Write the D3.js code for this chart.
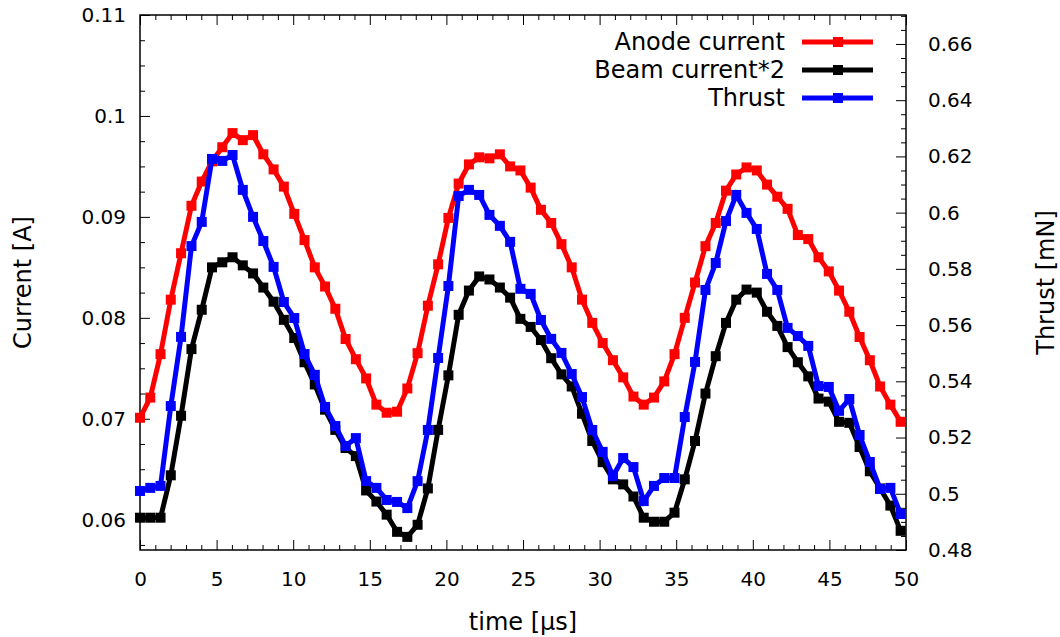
<!DOCTYPE html>
<html>
<head>
<meta charset="utf-8">
<script src="https://cdn.jsdelivr.net/npm/d3@7"></script>
<style>
  html, body { margin: 0; padding: 0; background: #fff; }
  svg text { font-family: "DejaVu Sans", sans-serif; fill: #000; }
</style>
</head>
<body>
<div id="chart"></div>
<script>
// sample times [µs]
const time = [0, 0.67, 1.34, 2.01, 2.68, 3.36, 4.03, 4.70, 5.37, 6.04, 6.71, 7.38, 8.05, 8.72, 9.39,
  10.07, 10.74, 11.41, 12.08, 12.75, 13.42, 14.09, 14.76, 15.43, 16.10, 16.78, 17.45, 18.12, 18.79, 19.46,
  20.13, 20.80, 21.47, 22.14, 22.81, 23.49, 24.16, 24.83, 25.50, 26.17, 26.84, 27.51, 28.18, 28.85, 29.52,
  30.20, 30.87, 31.54, 32.21, 32.88, 33.55, 34.22, 34.89, 35.56, 36.23, 36.91, 37.58, 38.25, 38.92, 39.59,
  40.26, 40.93, 41.60, 42.27, 42.94, 43.62, 44.29, 44.96, 45.63, 46.30, 46.97, 47.64, 48.31, 48.98, 49.65];

// Anode current [A]
const anode = [0.0701, 0.0721, 0.0764, 0.0818, 0.0864, 0.0911, 0.0935, 0.0955, 0.0969, 0.0983, 0.0976, 0.0981, 0.0962, 0.0947, 0.0930,
  0.0903, 0.0877, 0.0850, 0.0831, 0.0809, 0.0779, 0.0759, 0.0740, 0.0714, 0.0706, 0.0707, 0.0730, 0.0765, 0.0812, 0.0853,
  0.0899, 0.0933, 0.0952, 0.0959, 0.0958, 0.0962, 0.0950, 0.0946, 0.0929, 0.0907, 0.0894, 0.0873, 0.0850, 0.0818, 0.0795,
  0.0775, 0.0758, 0.0741, 0.0722, 0.0714, 0.0721, 0.0737, 0.0764, 0.0800, 0.0835, 0.0871, 0.0894, 0.0926, 0.0942, 0.0949,
  0.0946, 0.0932, 0.0920, 0.0908, 0.0882, 0.0878, 0.0860, 0.0846, 0.0827, 0.0806, 0.0781, 0.0758, 0.0732, 0.0714, 0.0697];

// Beam current * 2 [A]
const beam = [0.0602, 0.0602, 0.0602, 0.0644, 0.0703, 0.0769, 0.0808, 0.0850, 0.0855, 0.0860, 0.0852, 0.0844, 0.0830, 0.0816, 0.0798,
  0.0780, 0.0756, 0.0734, 0.0709, 0.0689, 0.0671, 0.0663, 0.0629, 0.0618, 0.0605, 0.0588, 0.0583, 0.0595, 0.0631, 0.0689,
  0.0743, 0.0803, 0.0827, 0.0841, 0.0838, 0.0830, 0.0820, 0.0799, 0.0791, 0.0778, 0.0760, 0.0744, 0.0732, 0.0705, 0.0678,
  0.0657, 0.0640, 0.0635, 0.0623, 0.0602, 0.0598, 0.0598, 0.0607, 0.0640, 0.0678, 0.0725, 0.0762, 0.0795, 0.0818, 0.0828,
  0.0825, 0.0806, 0.0792, 0.0771, 0.0756, 0.0742, 0.0720, 0.0717, 0.0697, 0.0696, 0.0672, 0.0648, 0.0631, 0.0614, 0.0589];

// Thrust [mN]
const thrust = [0.5010, 0.5021, 0.5028, 0.5312, 0.5558, 0.5881, 0.5967, 0.6191, 0.6184, 0.6205, 0.6081, 0.5985, 0.5899, 0.5807, 0.5682,
  0.5625, 0.5497, 0.5423, 0.5309, 0.5241, 0.5170, 0.5198, 0.5045, 0.5021, 0.4978, 0.4971, 0.4949, 0.5045, 0.5227, 0.5483,
  0.5739, 0.6059, 0.6081, 0.6063, 0.5992, 0.5953, 0.5896, 0.5729, 0.5711, 0.5618, 0.5551, 0.5501, 0.5426, 0.5344, 0.5227,
  0.5149, 0.5063, 0.5127, 0.5095, 0.4974, 0.5028, 0.5056, 0.5056, 0.5273, 0.5469, 0.5725, 0.5821, 0.5970, 0.6063, 0.5999,
  0.5942, 0.5782, 0.5725, 0.5590, 0.5561, 0.5526, 0.5383, 0.5380, 0.5295, 0.5337, 0.5209, 0.5113, 0.5017, 0.5021, 0.4928];

const xTicks = [0, 5, 10, 15, 20, 25, 30, 35, 40, 45, 50];
const leftTicks = [0.06, 0.07, 0.08, 0.09, 0.1, 0.11];
const rightTicks = [0.48, 0.5, 0.52, 0.54, 0.56, 0.58, 0.6, 0.62, 0.64, 0.66];

const series = [
  { name: 'Anode current', values: anode, axis: 'left', color: '#ff0000' },
  { name: 'Beam current*2', values: beam, axis: 'left', color: '#000000' },
  { name: 'Thrust', values: thrust, axis: 'right', color: '#0000ff' }
];

const width = 1060, height = 637;
const margin = { top: 15, right: 154, bottom: 87, left: 140 };
const innerWidth = width - margin.left - margin.right;
const innerHeight = height - margin.top - margin.bottom;
const tickFont = 20;
const labelFont = 24;

const svg = d3.select('#chart').append('svg')
  .attr('width', width)
  .attr('height', height);

const g = svg.append('g')
  .attr('transform', `translate(${margin.left},${margin.top})`);

// Scales
const xScale = d3.scaleLinear().domain([0, 50]).range([0, innerWidth]);
const yLeft = d3.scaleLinear().domain([0.057, 0.11]).range([innerHeight, 0]);
const yRight = d3.scaleLinear().domain([0.48, 0.6703]).range([innerHeight, 0]);

function styleAxis(sel) {
  sel.select('.domain').remove();
  sel.selectAll('line').attr('stroke', '#000').attr('stroke-width', 1);
  sel.selectAll('text').filter(function () { return this.textContent === ''; }).remove();
  sel.selectAll('text').style('font-size', tickFont + 'px').style('font-family', '"DejaVu Sans", sans-serif');
}

// minor ticks
const xMinor = d3.range(0, 51, 1).filter(v => v % 5 !== 0);
const leftMinor = d3.range(0, 22).map(i => +(0.0575 + i * 0.0025).toFixed(4)).filter(v => Math.round(v * 10000) % 100 !== 0);
const rightMinor = d3.range(0, 39).map(i => +(0.48 + i * 0.005).toFixed(3)).filter(v => Math.round(v * 1000) % 20 !== 0);

// X axis (bottom + mirrored top)
g.append('g').attr('transform', `translate(0,${innerHeight})`)
  .call(d3.axisBottom(xScale).tickValues(xTicks).tickSize(-10).tickPadding(22).tickFormat(d3.format('d')))
  .call(styleAxis);
g.append('g').attr('transform', `translate(0,${innerHeight})`)
  .call(d3.axisBottom(xScale).tickValues(xMinor).tickSize(-5).tickFormat(''))
  .call(styleAxis);
g.append('g')
  .call(d3.axisTop(xScale).tickValues(xTicks).tickSize(-10).tickFormat(''))
  .call(styleAxis);
g.append('g')
  .call(d3.axisTop(xScale).tickValues(xMinor).tickSize(-5).tickFormat(''))
  .call(styleAxis);

// Left axis
g.append('g')
  .call(d3.axisLeft(yLeft).tickValues(leftTicks).tickSize(-10).tickPadding(14).tickFormat(d => d3.format('')(+d.toFixed(2))))
  .call(styleAxis);
g.append('g')
  .call(d3.axisLeft(yLeft).tickValues(leftMinor).tickSize(-5).tickFormat(''))
  .call(styleAxis);

// Right axis
g.append('g').attr('transform', `translate(${innerWidth},0)`)
  .call(d3.axisRight(yRight).tickValues(rightTicks).tickSize(-10).tickPadding(22).tickFormat(d => d3.format('')(+d.toFixed(2))))
  .call(styleAxis);
g.append('g').attr('transform', `translate(${innerWidth},0)`)
  .call(d3.axisRight(yRight).tickValues(rightMinor).tickSize(-5).tickFormat(''))
  .call(styleAxis);

// Frame
g.append('rect')
  .attr('width', innerWidth)
  .attr('height', innerHeight)
  .attr('fill', 'none')
  .attr('stroke', '#000')
  .attr('stroke-width', 1.5);

// Axis labels
svg.append('text')
  .attr('transform', `translate(31,${margin.top + innerHeight / 2}) rotate(-90)`)
  .attr('text-anchor', 'middle')
  .style('font-size', labelFont + 'px')
  .text('Current [A]');

svg.append('text')
  .attr('transform', `translate(1054,${margin.top + innerHeight / 2}) rotate(-90)`)
  .attr('text-anchor', 'middle')
  .style('font-size', labelFont + 'px')
  .text('Thrust [mN]');

svg.append('text')
  .attr('x', margin.left + innerWidth / 2)
  .attr('y', 630)
  .attr('text-anchor', 'middle')
  .style('font-size', labelFont + 'px')
  .text('time [µs]');

// Lines + square markers
const plot = g.append('g');
const marker = 10;
series.forEach(s => {
  const yScale = s.axis === 'left' ? yLeft : yRight;
  const line = d3.line()
    .x((d, i) => xScale(time[i]))
    .y(d => yScale(d));

  plot.append('path')
    .datum(s.values)
    .attr('d', line)
    .attr('fill', 'none')
    .attr('stroke', s.color)
    .attr('stroke-width', 5)
    .attr('stroke-linejoin', 'miter');

  plot.selectAll(null)
    .data(s.values)
    .enter().append('rect')
    .attr('x', (d, i) => xScale(time[i]) - marker / 2)
    .attr('y', d => yScale(d) - marker / 2)
    .attr('width', marker)
    .attr('height', marker)
    .attr('fill', s.color);
});

// Legend
const legend = svg.append('g');
series.forEach((s, i) => {
  const y = 42 + i * 28;
  legend.append('text')
    .attr('x', 785)
    .attr('y', y)
    .attr('dy', '0.35em')
    .attr('text-anchor', 'end')
    .style('font-size', labelFont + 'px')
    .text(s.name);
  legend.append('line')
    .attr('x1', 802).attr('x2', 873)
    .attr('y1', y).attr('y2', y)
    .attr('stroke', s.color)
    .attr('stroke-width', 5);
  legend.append('rect')
    .attr('x', 838 - marker / 2)
    .attr('y', y - marker / 2)
    .attr('width', marker)
    .attr('height', marker)
    .attr('fill', s.color);
});
</script>
</body>
</html>
